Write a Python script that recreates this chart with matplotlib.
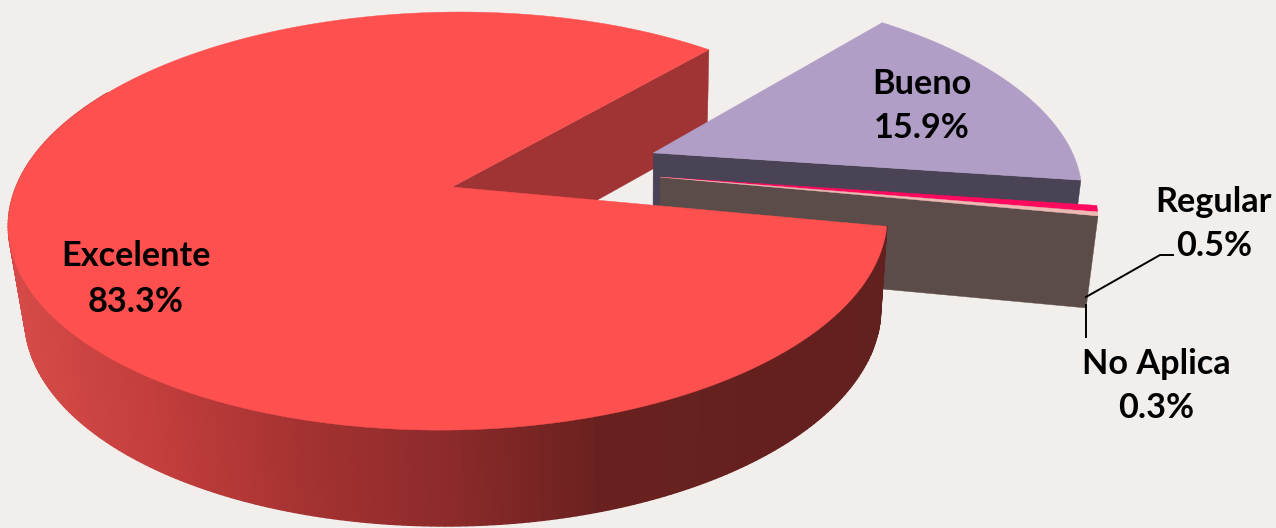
import numpy as np
import matplotlib
matplotlib.use("Agg")
import matplotlib.pyplot as plt
from matplotlib.collections import PolyCollection

# data
names = ["Excelente", "No Aplica", "Regular", "Bueno"]
shares = [83.3, 0.3, 0.5, 15.9]

# slices go counter clockwise from here
start_angle = 49.3

# how far each slice is pulled out, in disc radii
pull_u = [0, 0.486, 0.486, 0.476]
pull_v = [0, 0.049, 0.049, 0.172]

top_colors = ["#FF5050", "#EFB9B3", "#FF0A5E", "#B09EC6"]
cut_colors = ["#A03333", "#5C4C49", "#5C4C49", "#4A4255"]
bg = "#F2EEEB"

# wall shading across the picture
shade_x = [10, 150, 300, 450, 600, 880]
shade_r = [214, 195, 165, 140, 105, 98]
shade_g = [75, 62, 50, 42, 33, 32]
shade_b = [72, 60, 50, 42, 31, 30]

# projection of the tilted disc
cx, cy = 452, 187
a_left, a_right, b, k, skew = 436, 431, 203.5, 0.163, 10


def project(u, v):
    s = 1 / (1 + k * v)
    a = np.where(np.asarray(u) > 0, a_right, a_left)
    return cx + a * u * s + skew * v * s, cy - b * v * s


def drop(x, y):
    # same point on the underside of the pie
    return 640 + (x - 640) * 0.974, y + 92 + 0.018 * (y - 214)


edges = start_angle + np.concatenate([[0], np.cumsum(shares)]) * 3.6


def rim(i, a0, a1, n=200):
    t = np.radians(np.linspace(a0, a1, n))
    return project(pull_u[i] + np.cos(t), pull_v[i] + np.sin(t))


def draw_top(ax, i):
    x, y = rim(i, edges[i], edges[i + 1])
    vx, vy = project(pull_u[i], pull_v[i])
    ax.fill(np.r_[vx, x], np.r_[vy, y], color=top_colors[i], lw=0.3)


def draw_cut(ax, i, angle):
    # flat wall from the slice's centre to its rim
    vx, vy = project(pull_u[i], pull_v[i])
    ex, ey = rim(i, angle, angle, 1)
    x = np.array([vx, ex[0]])
    y = np.array([vy, ey[0]])
    bx, by = drop(x, y)
    ax.fill(np.r_[x, bx[::-1]], np.r_[y, by[::-1]], color=cut_colors[i], lw=0.3)


fig = plt.figure(figsize=(12.76, 5.28), dpi=100, facecolor=bg)
ax = fig.add_axes([0, 0, 1, 1])
ax.set_xlim(0, 1276)
ax.set_ylim(528, 0)
ax.axis("off")

# back to front
draw_cut(ax, 0, edges[0])
draw_cut(ax, 3, edges[3])
draw_top(ax, 3)
draw_cut(ax, 1, edges[1])
draw_top(ax, 2)
draw_top(ax, 1)

# outer wall of the big slice
x, y = rim(0, 150, edges[1], 250)
bx, by = drop(x, y)
quads = []
colors = []
for j in range(len(x) - 1):
    quads.append([(x[j], y[j]), (x[j + 1], y[j + 1]), (bx[j + 1], by[j + 1]), (bx[j], by[j])])
    mid = (x[j] + x[j + 1]) / 2
    colors.append((np.interp(mid, shade_x, shade_r) / 255,
                   np.interp(mid, shade_x, shade_g) / 255,
                   np.interp(mid, shade_x, shade_b) / 255))
ax.add_collection(PolyCollection(quads, facecolors=colors, edgecolors=colors, linewidths=1.0))
draw_top(ax, 0)

# labels
label_font = dict(family="Lato", weight="bold", fontsize=24.7, ha="center", va="center",
                  color="black", linespacing=1.5)
label_x = [136, 1156, 1214, 922]
label_y = [279, 386, 224, 106]
for i in range(len(names)):
    ax.text(label_x[i], label_y[i], "%s\n%.1f%%" % (names[i], shares[i]), **label_font)

# leader lines
ax.plot([1086, 1160, 1173], [297, 255, 255], color="black", lw=1.4)
ax.plot([1086, 1086], [305, 337], color="black", lw=1.4)

fig.savefig("out.png", dpi=100, facecolor=bg)
